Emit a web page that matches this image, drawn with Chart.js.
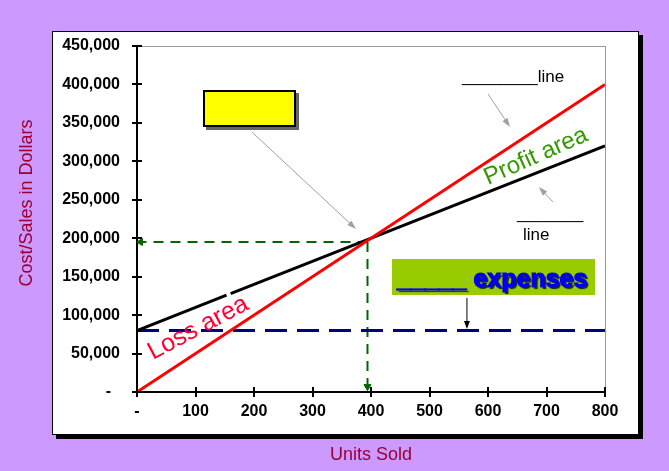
<!DOCTYPE html>
<html>
<head>
<meta charset="utf-8">
<title>Break-even chart</title>
<script src="https://cdn.jsdelivr.net/npm/chart.js@4.4.1/dist/chart.umd.min.js"></script>
<style>
    html, body { margin: 0; padding: 0; background: #cc99ff; }
    #wrap { width: 669px; height: 471px; position: relative; }
</style>
</head>
<body>
<div id="wrap"><canvas id="chart"></canvas></div>
<script>
const FONT = 'Arial, "Liberation Sans", sans-serif';
const TITLE_COLOR = '#990033';

// tick values
const xTickValues = [0, 100, 200, 300, 400, 500, 600, 700, 800];
const yTickValues = [0, 50000, 100000, 150000, 200000, 250000, 300000, 350000, 400000, 450000];

// sales line
const salesUnits = [0, 800];
const salesValues = [0, 400000];

// total cost line (small break near 155 units, as in the picture)
const costUnits = [0, 153, 160, 800];
const costValues = [80000, 126000, 128000, 320000];

// fixed expenses
const fixedUnits = [0, 800];
const fixedValues = [80000, 80000];

// break-even guide arrows
const guideAcrossUnits = [394, 6];
const guideAcrossValues = [195000, 195000];
const guideDownUnits = [394, 394];
const guideDownValues = [195000, 7000];

function toPoints(xs, ys) {
    return xs.map((x, i) => ({ x: x, y: ys[i] }));
}

function tickLabel(value) {
    return value === 0 ? '-' : value.toLocaleString('en-US');
}

function drawArrow(ctx, x1, y1, x2, y2, color, width, headLen, headHalf) {
    const ang = Math.atan2(y2 - y1, x2 - x1);
    ctx.strokeStyle = color;
    ctx.fillStyle = color;
    ctx.lineWidth = width;
    ctx.beginPath();
    ctx.moveTo(x1, y1);
    ctx.lineTo(x2 - Math.cos(ang) * headLen * 0.8, y2 - Math.sin(ang) * headLen * 0.8);
    ctx.stroke();
    ctx.beginPath();
    ctx.moveTo(x2, y2);
    ctx.lineTo(x2 - Math.cos(ang) * headLen - Math.sin(ang) * headHalf,
               y2 - Math.sin(ang) * headLen + Math.cos(ang) * headHalf);
    ctx.lineTo(x2 - Math.cos(ang) * headLen + Math.sin(ang) * headHalf,
               y2 - Math.sin(ang) * headLen - Math.cos(ang) * headHalf);
    ctx.closePath();
    ctx.fill();
}

const framePlugin = {
    id: 'frame',
    beforeDraw(chart) {
        const ctx = chart.ctx;
        const a = chart.chartArea;
        ctx.save();
        ctx.fillStyle = '#cc99ff';
        ctx.fillRect(0, 0, chart.width, chart.height);
        // white panel with black drop shadow
        ctx.fillStyle = '#000';
        ctx.fillRect(56, 35, 587, 404);
        ctx.fillStyle = '#fff';
        ctx.fillRect(52, 31, 587, 404);
        ctx.strokeStyle = '#000';
        ctx.lineWidth = 1;
        ctx.strokeRect(52.5, 31.5, 586, 403);
        // grey plot border, top and right
        ctx.strokeStyle = '#999999';
        ctx.beginPath();
        ctx.moveTo(a.left, a.top + 0.5);
        ctx.lineTo(a.right + 0.5, a.top + 0.5);
        ctx.lineTo(a.right + 0.5, a.bottom);
        ctx.stroke();
        // y axis title
        ctx.translate(27, 203);
        ctx.rotate(-Math.PI / 2);
        ctx.fillStyle = TITLE_COLOR;
        ctx.font = '18px ' + FONT;
        ctx.textAlign = 'center';
        ctx.textBaseline = 'middle';
        ctx.fillText('Cost/Sales in Dollars', 0, 0);
        ctx.restore();
    },
    afterDraw(chart) {
        const ctx = chart.ctx;
        const a = chart.chartArea;
        const xs = chart.scales.x;
        const ys = chart.scales.y;
        const X = v => xs.getPixelForValue(v);
        const Y = v => ys.getPixelForValue(v);

        ctx.save();
        // tick marks crossing both axes
        ctx.strokeStyle = '#000';
        ctx.lineWidth = 2;
        ctx.beginPath();
        yTickValues.forEach(v => {
            const y = Math.round(Y(v));
            ctx.moveTo(a.left - 5, y);
            ctx.lineTo(a.left + 5, y);
        });
        xTickValues.forEach(v => {
            const x = Math.round(X(v));
            ctx.moveTo(x, a.bottom - 5);
            ctx.lineTo(x, a.bottom + 5);
        });
        ctx.stroke();

        // yellow blank box
        const bx = Math.round(X(112.8)), by = Math.round(Y(392800));
        ctx.fillStyle = '#666';
        ctx.fillRect(bx + 3, by + 3, 93, 37);
        ctx.fillStyle = '#ffff00';
        ctx.fillRect(bx, by, 93, 37);
        ctx.strokeStyle = '#000';
        ctx.lineWidth = 2;
        ctx.strokeRect(bx + 1, by + 1, 91, 35);

        // grey callout arrows
        drawArrow(ctx, X(196.6), Y(338000), X(374.4), Y(212000), '#a0a0a0', 1, 9, 3);
        drawArrow(ctx, X(600), Y(387600), X(637.6), Y(344700), '#a0a0a0', 1, 9, 3);
        drawArrow(ctx, X(711), Y(247100), X(687), Y(266600), '#a0a0a0', 1, 9, 3);

        // "line" labels
        ctx.fillStyle = '#000';
        ctx.font = '17px ' + FONT;
        ctx.textAlign = 'left';
        ctx.textBaseline = 'alphabetic';
        ctx.fillText('________line', X(555.6), Y(403200));
        ctx.fillText('_______', X(649.6), Y(225650));
        ctx.fillText('line', X(659.8), Y(197700));

        // area labels
        ctx.save();
        ctx.translate(X(600), Y(269200));
        ctx.rotate(-24 * Math.PI / 180);
        ctx.fillStyle = '#339900';
        ctx.font = '24px ' + FONT;
        ctx.fillText('Profit area', 0, 0);
        ctx.restore();

        ctx.save();
        ctx.translate(X(27.4), Y(41600));
        ctx.rotate(-28 * Math.PI / 180);
        ctx.fillStyle = '#ff0033';
        ctx.font = '25px ' + FONT;
        ctx.fillText('Loss area', 0, 0);
        ctx.restore();

        // fixed expenses label
        ctx.fillStyle = '#99cc00';
        ctx.fillRect(Math.round(X(436)), Math.round(Y(172980)), 203, 36);
        ctx.save();
        ctx.font = 'bold 25px ' + FONT;
        ctx.fillStyle = '#0000ee';
        ctx.strokeStyle = '#0000ee';
        ctx.lineWidth = 1.2;
        ctx.shadowColor = 'rgba(0, 0, 50, 0.85)';
        ctx.shadowOffsetX = 2;
        ctx.shadowOffsetY = 2;
        ctx.shadowBlur = 1;
        ctx.fillText('_____ expenses', X(444.4), Y(136560));
        ctx.shadowColor = 'rgba(0, 0, 0, 0)';
        ctx.strokeText('_____ expenses', X(444.4), Y(136560));
        ctx.restore();
        drawArrow(ctx, X(564), Y(122300), X(564), Y(81900), '#000', 1, 8, 3);

        ctx.restore();
    }
};

const ctx = document.getElementById('chart').getContext('2d');

new Chart(ctx, {
    type: 'scatter',
    data: {
        datasets: [
            {
                label: 'Sales',
                data: toPoints(salesUnits, salesValues),
                showLine: true,
                borderColor: '#ff0000',
                borderWidth: 3,
                pointRadius: 0
            },
            {
                label: 'Total cost',
                data: toPoints(costUnits, costValues),
                showLine: true,
                borderColor: '#000000',
                borderWidth: 3,
                pointRadius: 0,
                segment: {
                    borderColor: c => c.p0DataIndex === 1 ? 'rgba(0,0,0,0)' : undefined
                }
            },
            {
                label: 'Fixed expenses',
                data: toPoints(fixedUnits, fixedValues),
                showLine: true,
                borderColor: '#000080',
                borderWidth: 3,
                borderDash: [22, 10],
                pointRadius: 0
            },
            {
                label: 'Break-even sales',
                data: toPoints(guideAcrossUnits, guideAcrossValues),
                showLine: true,
                borderColor: '#006600',
                borderWidth: 2,
                borderDash: [10, 7],
                pointRadius: [0, 4],
                pointStyle: 'triangle',
                rotation: -90,
                pointBackgroundColor: '#006600',
                pointBorderColor: '#006600',
                pointBorderWidth: 1
            },
            {
                label: 'Break-even units',
                data: toPoints(guideDownUnits, guideDownValues),
                showLine: true,
                borderColor: '#006600',
                borderWidth: 2,
                borderDash: [10, 7],
                pointRadius: [0, 4],
                pointStyle: 'triangle',
                rotation: 180,
                pointBackgroundColor: '#006600',
                pointBorderColor: '#006600',
                pointBorderWidth: 1
            }
        ]
    },
    options: {
        responsive: true,
        maintainAspectRatio: false,
        animation: false,
        events: [],
        layout: {
            padding: { left: 0, top: 46, right: 64, bottom: 0 }
        },
        plugins: {
            legend: { display: false },
            tooltip: { enabled: false }
        },
        scales: {
            x: {
                type: 'linear',
                min: 0,
                max: 800,
                afterBuildTicks: scale => {
                    scale.ticks = xTickValues.map(v => ({ value: v }));
                },
                afterFit: scale => { scale.height = 79; },
                ticks: {
                    callback: v => tickLabel(v),
                    color: '#000',
                    padding: 10,
                    maxRotation: 0,
                    font: { family: FONT, size: 16, weight: 'bold' }
                },
                grid: { display: false, drawTicks: false },
                border: { display: true, color: '#000', width: 2 },
                title: {
                    display: true,
                    text: 'Units Sold',
                    color: TITLE_COLOR,
                    padding: { top: 0, bottom: 5 },
                    font: { family: FONT, size: 18 }
                }
            },
            y: {
                type: 'linear',
                min: 0,
                max: 450000,
                afterBuildTicks: scale => {
                    scale.ticks = yTickValues.map(v => ({ value: v }));
                },
                afterFit: scale => { scale.width = 137; },
                ticks: {
                    callback: v => v === 0 ? '-  ' : tickLabel(v),
                    color: '#000',
                    padding: 17,
                    font: { family: FONT, size: 16, weight: 'bold' }
                },
                grid: { display: false, drawTicks: false },
                border: { display: true, color: '#000', width: 2 }
            }
        }
    },
    plugins: [framePlugin]
});
</script>
</body>
</html>
